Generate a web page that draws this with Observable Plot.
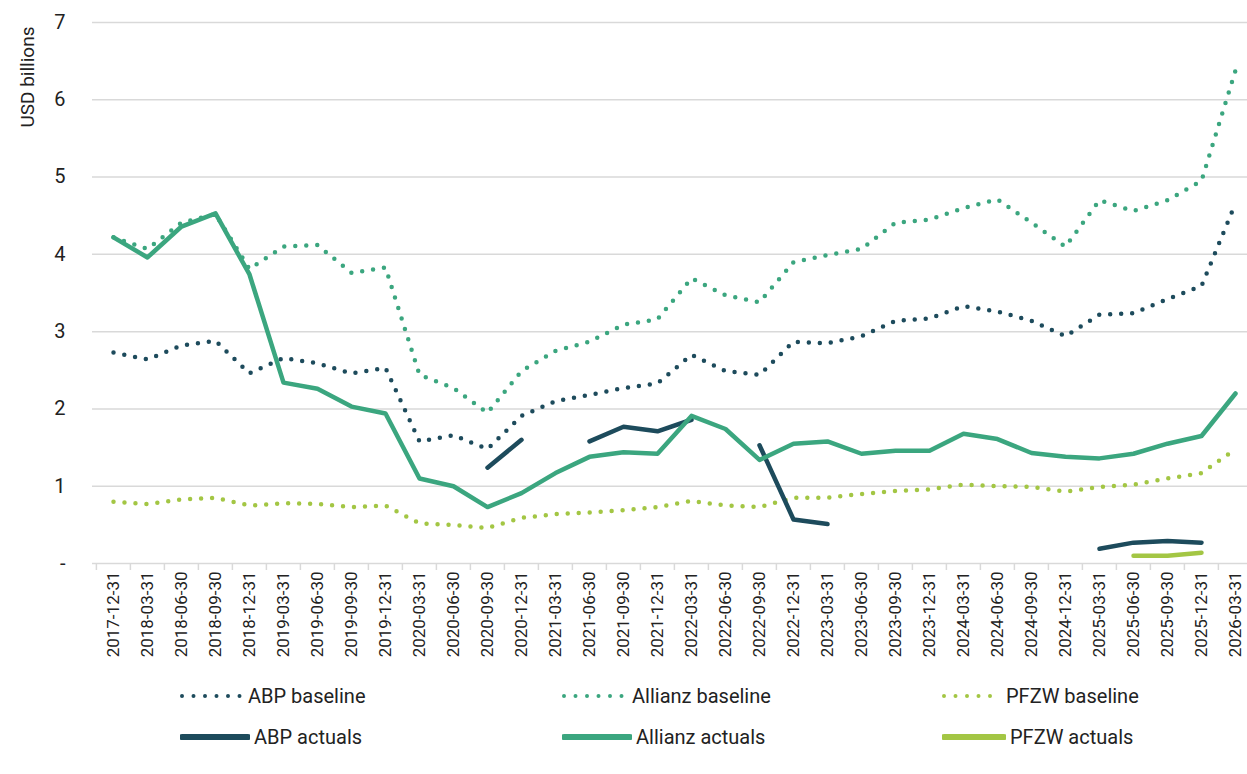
<!DOCTYPE html>
<html>
<head>
<meta charset="utf-8">
<script src="https://cdn.jsdelivr.net/npm/d3@7"></script>
<script src="https://cdn.jsdelivr.net/npm/@observablehq/plot@0.6"></script>
<style>
  html, body { margin: 0; padding: 0; background: #fff; overflow: hidden; }
  #wrap { position: relative; width: 1247px; height: 774px; font-family: Roboto, "Noto Sans", sans-serif; }
  .leg { position: absolute; display: flex; align-items: center; font-size: 20px; color: #222; white-space: nowrap; }
  .leg svg { display: block; margin-right: 4px; }
</style>
</head>
<body>
<div id="wrap"></div>
<script>
const quarters = [
  "2017-12-31","2018-03-31","2018-06-30","2018-09-30","2018-12-31",
  "2019-03-31","2019-06-30","2019-09-30","2019-12-31",
  "2020-03-31","2020-06-30","2020-09-30","2020-12-31",
  "2021-03-31","2021-06-30","2021-09-30","2021-12-31",
  "2022-03-31","2022-06-30","2022-09-30","2022-12-31",
  "2023-03-31","2023-06-30","2023-09-30","2023-12-31",
  "2024-03-31","2024-06-30","2024-09-30","2024-12-31",
  "2025-03-31","2025-06-30","2025-09-30","2025-12-31",
  "2026-03-31"
];
const abpBaseline = [2.73,2.64,2.82,2.88,2.46,2.66,2.59,2.46,2.53,1.58,1.66,1.48,1.91,2.10,2.18,2.27,2.33,2.70,2.49,2.44,2.87,2.85,2.94,3.14,3.17,3.33,3.26,3.14,2.94,3.22,3.24,3.42,3.59,4.66];
const allianzBaseline = [4.22,4.07,4.41,4.52,3.81,4.10,4.12,3.76,3.83,2.44,2.27,1.95,2.49,2.75,2.87,3.09,3.16,3.69,3.47,3.38,3.90,3.99,4.07,4.41,4.45,4.60,4.71,4.41,4.10,4.70,4.56,4.70,4.95,6.38];
const pfzwBaseline = [0.80,0.77,0.83,0.85,0.75,0.78,0.77,0.73,0.75,0.52,0.50,0.46,0.59,0.64,0.66,0.69,0.73,0.81,0.75,0.73,0.85,0.85,0.90,0.94,0.96,1.02,1.00,0.99,0.93,0.99,1.02,1.10,1.17,1.48];
const abpActuals = [null,null,null,null,null,null,null,null,null,null,null,1.24,1.60,null,1.58,1.77,1.71,1.86,null,1.53,0.57,0.51,null,null,null,null,null,null,null,0.19,0.27,0.29,0.27,null];
const allianzActuals = [4.22,3.96,4.36,4.53,3.74,2.34,2.26,2.03,1.94,1.10,1.00,0.73,0.91,1.17,1.38,1.44,1.42,1.91,1.74,1.34,1.55,1.58,1.42,1.46,1.46,1.68,1.61,1.43,1.38,1.36,1.42,1.55,1.65,2.20];
const pfzwActuals = [null,null,null,null,null,null,null,null,null,null,null,null,null,null,null,null,null,null,null,null,null,null,null,null,null,null,null,null,null,null,0.10,0.10,0.14,null];
const yTicks = [0,1,2,3,4,5,6,7];

const seriesNames = ["ABP baseline","Allianz baseline","PFZW baseline","ABP actuals","Allianz actuals","PFZW actuals"];
const colors = {ABP: "#1d4b5c", Allianz: "#3ba67f", PFZW: "#a3c644"};

const toRows = (vals) => quarters.map((q, i) => ({q, v: vals[i] == null ? undefined : vals[i]}));

const W = 1247, ML = 92, MR = -8;
const step = (W - ML - MR) / quarters.length;

const dotted = (vals, color) => Plot.line(toRows(vals), {
  x: "q", y: "v", stroke: color, strokeWidth: 4.5,
  strokeDasharray: "0 11", strokeLinecap: "round", strokeLinejoin: "round"
});
const solid = (vals, color) => Plot.line(toRows(vals), {
  x: "q", y: "v", stroke: color, strokeWidth: 4.5,
  strokeLinecap: "round", strokeLinejoin: "round"
});

const chart = Plot.plot({
  width: W, height: 665,
  marginLeft: ML, marginRight: MR, marginTop: 22, marginBottom: 102,
  style: {fontFamily: "Roboto, sans-serif", color: "#222", background: "transparent", overflow: "visible"},
  x: {type: "band", domain: quarters, padding: 0, label: null},
  y: {domain: [0, 7], label: null},
  marks: [
    Plot.gridY(yTicks.filter(d => d > 0), {stroke: "#d9d9d9", strokeOpacity: 1, strokeWidth: 1.5}),
    Plot.ruleY([0], {stroke: "#d9d9d9", strokeWidth: 1.5}),
    Plot.axisX({tickSize: 7, tickFormat: () => "", stroke: "#d9d9d9", strokeWidth: 1.5, dx: -step / 2, label: null}),
    Plot.axisX({tickSize: 0, tickPadding: 8, tickRotate: -90, fontSize: 17, fill: "#222", label: null}),
    Plot.axisY({ticks: yTicks, tickSize: 0, tickPadding: 27, fontSize: 20, fill: "#222",
      tickFormat: d => d === 0 ? "-" : String(d), label: null}),
    Plot.text(["USD billions"], {frameAnchor: "top-left", rotate: -90, textAnchor: "end",
      dx: 20 - ML, dy: 4, fontSize: 19, fill: "#222"}),
    dotted(abpBaseline, colors.ABP),
    dotted(allianzBaseline, colors.Allianz),
    dotted(pfzwBaseline, colors.PFZW),
    solid(abpActuals, colors.ABP),
    solid(allianzActuals, colors.Allianz),
    solid(pfzwActuals, colors.PFZW)
  ]
});

const wrap = document.getElementById("wrap");
wrap.appendChild(chart);

// Legend below the chart
const legendPos = [
  {x: 180, y: 696, sw: 60}, {x: 562, y: 696, sw: 62}, {x: 942, y: 696, sw: 56},
  {x: 180, y: 737, sw: 66}, {x: 562, y: 737, sw: 66}, {x: 942, y: 737, sw: 60}
];
seriesNames.forEach((name, i) => {
  const key = name.split(" ")[0];
  const isDotted = name.endsWith("baseline");
  const p = legendPos[i];
  const div = document.createElement("div");
  div.className = "leg";
  div.style.left = p.x + "px";
  div.style.top = (p.y - 14) + "px";
  div.style.height = "28px";
  const ns = "http://www.w3.org/2000/svg";
  const s = document.createElementNS(ns, "svg");
  s.setAttribute("width", p.sw + 4);
  s.setAttribute("height", 10);
  const l = document.createElementNS(ns, "line");
  l.setAttribute("x1", 2); l.setAttribute("x2", p.sw + 2);
  l.setAttribute("y1", 5); l.setAttribute("y2", 5);
  l.setAttribute("stroke", colors[key]);
  l.setAttribute("stroke-width", isDotted ? 4 : 6);
  l.setAttribute("stroke-linecap", "round");
  if (isDotted) l.setAttribute("stroke-dasharray", "0 11.5");
  s.appendChild(l);
  div.appendChild(s);
  const t = document.createElement("span");
  t.textContent = name;
  div.appendChild(t);
  wrap.appendChild(div);
});
</script>
</body>
</html>
